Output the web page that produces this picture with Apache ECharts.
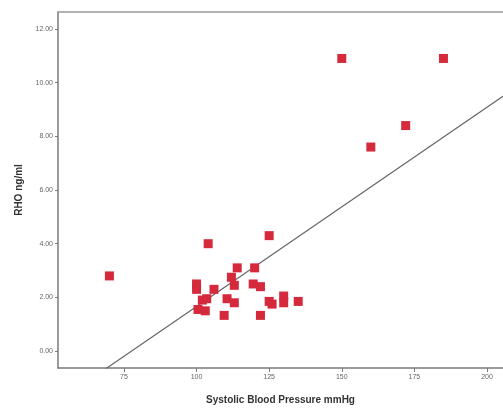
<!DOCTYPE html>
<html><head><meta charset="utf-8">
<script src="https://cdn.jsdelivr.net/npm/echarts@6/dist/echarts.min.js"></script>
<style>html,body{margin:0;padding:0;background:#fff}#c{width:503px;height:410px}</style>
</head><body><div id="c"></div>
<script>
// Systolic blood pressure (mmHg)
const sbp = [70, 150, 185, 172, 160, 104, 125, 114, 120, 112, 113, 119.5, 122, 100, 100, 106, 103.5, 102, 110.5, 113, 100.5, 103, 109.5, 125, 130, 130, 135, 122, 126];
// RHO (ng/ml)
const rho = [2.8, 10.9, 10.9, 8.4, 7.6, 4.0, 4.3, 3.1, 3.1, 2.75, 2.45, 2.5, 2.4, 2.5, 2.3, 2.3, 1.95, 1.9, 1.95, 1.8, 1.55, 1.5, 1.33, 1.85, 2.05, 1.8, 1.85, 1.33, 1.75];
const xTicks = [75, 100, 125, 150, 175, 200];
const yTicks = [0, 2, 4, 6, 8, 10, 12];
const fitIntercept = -5.76;
const fitSlope = 0.0742;

const xMin = 52.3, xMax = 205.5, yMin = -0.63, yMax = 12.63;
const pts = sbp.map((v, i) => [v, rho[i]]);
const fitLine = [xMin, xMax].map(x => [x, fitIntercept + fitSlope * x]);

const chart = echarts.init(document.getElementById('c'), null, {renderer: 'canvas'});
const axisCol = '#7a7a7a';
chart.setOption({
  backgroundColor: '#fff',
  animation: false,
  grid: {left: 58, top: 12, right: 0, bottom: 40},
  xAxis: [{
    type: 'value', min: xMin, max: xMax,
    splitLine: {show: false},
    axisLine: {show: true, onZero: false, lineStyle: {color: axisCol, width: 1.5}},
    axisTick: {show: true, customValues: xTicks, length: 4, lineStyle: {color: axisCol}},
    axisLabel: {customValues: xTicks, color: '#666', fontSize: 7, fontFamily: 'Liberation Sans', margin: 6},
    name: 'Systolic Blood Pressure mmHg', nameLocation: 'middle', nameGap: 27,
    nameTextStyle: {fontSize: 10, fontWeight: 'bold', color: '#333', fontFamily: 'Liberation Sans'}
  }, {
    type: 'value', position: 'top', min: xMin, max: xMax,
    splitLine: {show: false},
    axisLine: {show: true, onZero: false, lineStyle: {color: '#999', width: 1.5}},
    axisTick: {show: false}, axisLabel: {show: false}
  }],
  yAxis: {
    type: 'value', min: yMin, max: yMax,
    splitLine: {show: false},
    axisLine: {show: true, onZero: false, lineStyle: {color: axisCol, width: 1.5}},
    axisTick: {show: true, customValues: yTicks, length: 3, lineStyle: {color: axisCol}},
    axisLabel: {customValues: yTicks, color: '#666', fontSize: 7, fontFamily: 'Liberation Sans', margin: 5,
      formatter: v => v.toFixed(2)},
    name: 'RHO ng/ml', nameLocation: 'middle', nameGap: 24,
    nameTextStyle: {fontSize: 10, fontWeight: 'bold', color: '#333', fontFamily: 'Liberation Sans'}
  },
  series: [{
    type: 'line', data: fitLine, showSymbol: false, symbol: 'none',
    lineStyle: {color: '#666', width: 1.2}, clip: true, z: 1
  }, {
    type: 'scatter', data: pts, symbol: 'rect', symbolSize: 9,
    itemStyle: {color: '#d42a3c', opacity: 1}, z: 2
  }]
});
</script></body></html>
